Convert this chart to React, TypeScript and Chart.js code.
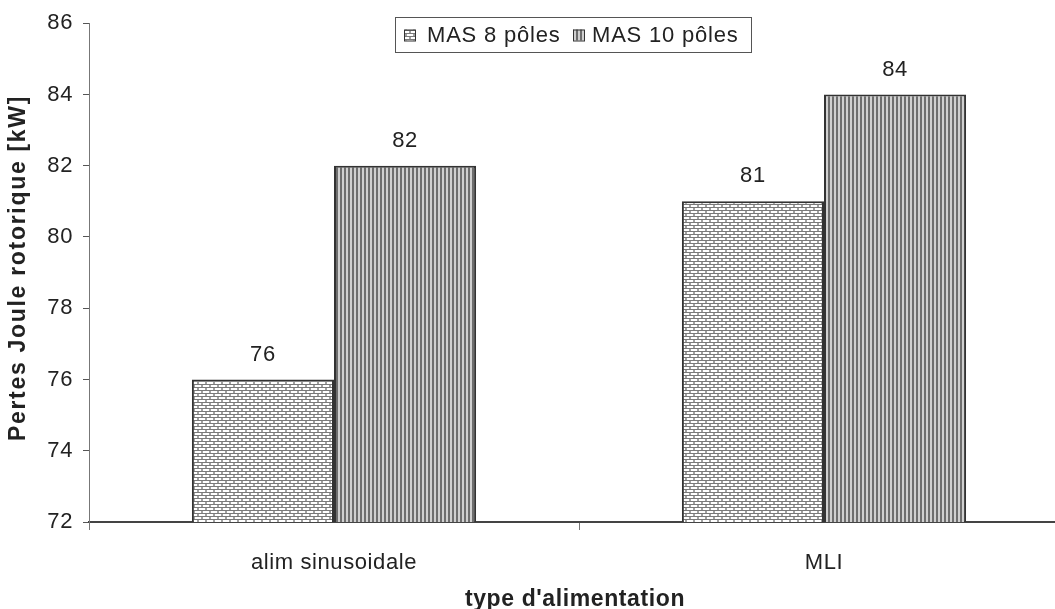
import React, { useEffect, useRef } from "react";
import { Chart, registerables } from "chart.js";

Chart.register(...registerables);

const categories = ["alim sinusoidale", "MLI"];
const seriesNames = ["MAS 8 pôles", "MAS 10 pôles"];
const mas8 = [76, 81];
const mas10 = [82, 84];
const yTicks = [72, 74, 76, 78, 80, 82, 84, 86];
const xTitle = "type d'alimentation";
const yTitle = "Pertes Joule rotorique [kW]";

const FONT = "'Liberation Sans', Arial, sans-serif";

function brickPattern(): CanvasPattern | string {
  const c = document.createElement("canvas");
  c.width = 8;
  c.height = 6;
  const g = c.getContext("2d");
  if (!g) return "#ccc";
  g.fillStyle = "#ffffff";
  g.fillRect(0, 0, 8, 6);
  g.fillStyle = "#7a7a7a";
  g.fillRect(0, 0, 8, 1);
  g.fillRect(0, 3, 8, 1);
  g.fillStyle = "#a0a0a0";
  g.fillRect(1, 1, 2, 2);
  g.fillRect(5, 4, 2, 2);
  const p = g.createPattern(c, "repeat");
  return p || "#ccc";
}

function stripePattern(): CanvasPattern | string {
  const c = document.createElement("canvas");
  c.width = 4;
  c.height = 4;
  const g = c.getContext("2d");
  if (!g) return "#888";
  g.fillStyle = "#d0d0d0";
  g.fillRect(0, 0, 4, 4);
  g.fillStyle = "#6e6e6e";
  g.fillRect(0, 0, 2, 4);
  const p = g.createPattern(c, "repeat");
  return p || "#888";
}

export default function App() {
  const ref = useRef<HTMLCanvasElement>(null);
  useEffect(() => {
    document.body.style.margin = "0";
    const canvas = ref.current;
    if (!canvas) return;
    const p1 = brickPattern();
    const p2 = stripePattern();
    const LS = "0.6px";

    const spacing = {
      id: "spacing",
      beforeInit(chart: any) {
        chart.ctx.letterSpacing = LS;
      },
      beforeLayout(chart: any) {
        chart.ctx.letterSpacing = LS;
      },
      beforeDraw(chart: any) {
        chart.ctx.letterSpacing = LS;
      },
    };

    const overlay = {
      id: "overlay",
      afterDatasetsDraw(chart: any) {
        const ctx = chart.ctx;
        ctx.save();
        ctx.letterSpacing = LS;
        ctx.font = `22px ${FONT}`;
        ctx.fillStyle = "#222";
        ctx.textAlign = "center";
        ctx.textBaseline = "middle";
        chart.data.datasets.forEach((ds: any, i: number) => {
          const meta = chart.getDatasetMeta(i);
          meta.data.forEach((bar: any, j: number) => {
            ctx.fillText(String(ds.data[j]), bar.x, bar.y - 25);
          });
        });
        // legend
        const bx = 395, by = 17, bw = 356, bh = 35;
        ctx.fillStyle = "#fff";
        ctx.fillRect(bx, by, bw, bh);
        ctx.strokeStyle = "#555";
        ctx.lineWidth = 1;
        ctx.strokeRect(bx + 0.5, by + 0.5, bw, bh);
        ctx.textAlign = "left";
        ctx.letterSpacing = "0.8px";
        const items = [
          { x: 404, tx: 427, fill: p1, text: seriesNames[0] },
          { x: 573, tx: 592, fill: p2, text: seriesNames[1] },
        ];
        items.forEach((it) => {
          const sy = by + bh / 2 - 5;
          ctx.fillStyle = it.fill;
          ctx.fillRect(it.x, sy, 11, 11);
          ctx.strokeStyle = "#333";
          ctx.strokeRect(it.x + 0.5, sy + 0.5, 11, 11);
          ctx.fillStyle = "#222";
          ctx.fillText(it.text, it.tx, by + bh / 2 + 1);
        });
        // axis titles
        ctx.font = `bold 23px ${FONT}`;
        ctx.textAlign = "center";
        ctx.letterSpacing = "0.6px";
        ctx.fillText(xTitle, 575, 600);
        ctx.save();
        ctx.translate(19, 268);
        ctx.rotate(-Math.PI / 2);
        ctx.font = `bold 23px ${FONT}`;
        ctx.letterSpacing = "1.7px";
        ctx.fillText(yTitle, 0, 0);
        ctx.restore();
        ctx.restore();
      },
    };

    const chart = new Chart(canvas, {
      type: "bar",
      data: {
        labels: categories,
        datasets: [
          {
            label: seriesNames[0],
            data: mas8,
            backgroundColor: p1 as any,
            borderColor: "#333",
            borderWidth: 2,
            borderSkipped: false,
            categoryPercentage: 0.58,
            barPercentage: 1,
          },
          {
            label: seriesNames[1],
            data: mas10,
            backgroundColor: p2 as any,
            borderColor: "#333",
            borderWidth: 2,
            borderSkipped: false,
            categoryPercentage: 0.58,
            barPercentage: 1,
          },
        ],
      },
      options: {
        animation: false,
        responsive: false,
        layout: { padding: { top: 17, right: 0, left: 0, bottom: 0 } },
        plugins: { legend: { display: false }, tooltip: { enabled: false } },
        scales: {
          x: {
            offset: true,
            grid: {
              display: true,
              drawOnChartArea: false,
              offset: true,
              tickLength: 8,
              color: "#777",
            },
            border: { color: "#444", width: 2 },
            ticks: {
              font: { family: FONT, size: 22 },
              color: "#222",
              padding: 20,
            },
            afterFit(scale: any) {
              scale.height = 87;
            },
          },
          y: {
            min: 72,
            max: 86,
            afterBuildTicks(scale: any) {
              scale.ticks = yTicks.map((v) => ({ value: v }));
            },
            grid: {
              display: true,
              drawOnChartArea: false,
              tickLength: 6,
              color: "#555",
            },
            border: { color: "#777", width: 1 },
            ticks: {
              font: { family: FONT, size: 22 },
              color: "#222",
              padding: 10,
            },
            afterFit(scale: any) {
              scale.width = 89;
            },
          },
        },
      },
      plugins: [spacing, overlay],
    });
    return () => chart.destroy();
  }, []);
  return (
    <div
      style={{
        position: "absolute",
        left: 0,
        top: 0,
        width: 1055,
        height: 609,
        overflow: "hidden",
      }}
    >
      <canvas ref={ref} width={1069} height={609} />
    </div>
  );
}
